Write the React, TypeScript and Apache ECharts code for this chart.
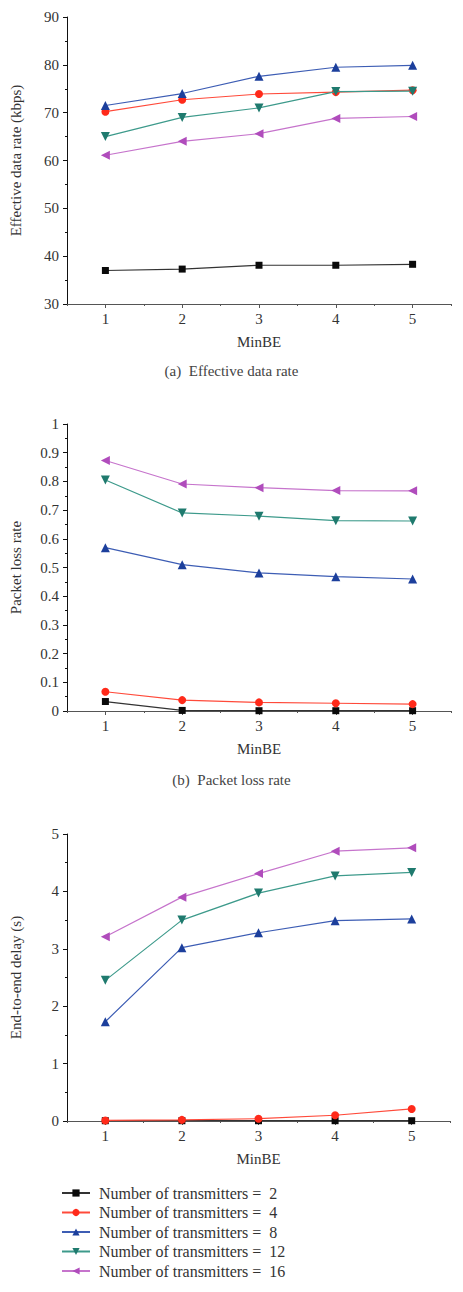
import React, { useEffect, useRef } from "react";
import * as echarts from "echarts";

// MinBE values on the horizontal axis of all three panels
const minBE = [1, 2, 3, 4, 5];

const seriesNames = [
  "Number of transmitters =  2",
  "Number of transmitters =  4",
  "Number of transmitters =  8",
  "Number of transmitters =  12",
  "Number of transmitters =  16",
];

// (a) Effective data rate (kbps)
const rate2 = [37.0, 37.3, 38.1, 38.1, 38.3];
const rate4 = [70.2, 72.7, 73.9, 74.3, 74.7];
const rate8 = [71.5, 74.0, 77.6, 79.5, 79.9];
const rate12 = [65.0, 69.0, 71.0, 74.4, 74.5];
const rate16 = [61.1, 64.0, 65.6, 68.8, 69.2];

// (b) Packet loss rate
const loss2 = [0.033, 0.002, 0.001, 0.001, 0.001];
const loss4 = [0.067, 0.038, 0.03, 0.027, 0.024];
const loss8 = [0.569, 0.51, 0.481, 0.468, 0.46];
const loss12 = [0.805, 0.69, 0.679, 0.663, 0.662];
const loss16 = [0.873, 0.791, 0.778, 0.768, 0.767];

// (c) End-to-end delay (s)
const delay2 = [0.005, 0.005, 0.005, 0.005, 0.005];
const delay4 = [0.01, 0.02, 0.04, 0.1, 0.21];
const delay8 = [1.73, 3.02, 3.28, 3.49, 3.52];
const delay12 = [2.45, 3.5, 3.97, 4.27, 4.33];
const delay16 = [3.21, 3.9, 4.31, 4.7, 4.76];

const yTicksRate = [30, 40, 50, 60, 70, 80, 90];
const yTicksLoss = [0, 0.1, 0.2, 0.3, 0.4, 0.5, 0.6, 0.7, 0.8, 0.9, 1];
const yTicksDelay = [0, 1, 2, 3, 4, 5];

const panelData = [
  [rate2, rate4, rate8, rate12, rate16],
  [loss2, loss4, loss8, loss12, loss16],
  [delay2, delay4, delay8, delay12, delay16],
];

const FONT = "Liberation Serif, Times New Roman, serif";
const TEXT = "#333";

const styles = [
  { symbol: "rect", rotate: 0, size: 7, marker: "#0a0a0a", line: "#333333" },
  { symbol: "circle", rotate: 0, size: 8, marker: "#ff2a1a", line: "#ff4a3a" },
  { symbol: "triangle", rotate: 0, size: 9, marker: "#1c3f9c", line: "#3d5db4" },
  { symbol: "triangle", rotate: 180, size: 9, marker: "#1f7a6e", line: "#3d9a8b" },
  { symbol: "triangle", rotate: 90, size: 9, marker: "#b04cbc", line: "#c674cc" },
];

const grids = [
  { left: 61, top: 17, width: 390, height: 287 },
  { left: 61, top: 424, width: 390, height: 287 },
  { left: 59, top: 834, width: 391, height: 287 },
];

const yAxisDefs = [
  { name: "Effective data rate (kbps)", ticks: yTicksRate, fmt: (v: number) => String(v) },
  { name: "Packet loss rate", ticks: yTicksLoss, fmt: (v: number) => String(Math.round(v * 10) / 10) },
  { name: "End-to-end delay (s)", ticks: yTicksDelay, fmt: (v: number) => String(v) },
];

export default function App() {
  const ref = useRef<HTMLDivElement>(null);

  useEffect(() => {
    if (!ref.current) return;
    const chart = echarts.init(ref.current, undefined, { renderer: "svg" });

    const labelStyle = { color: TEXT, fontFamily: FONT, fontSize: 15 };

    const xAxes: any[] = [];
    const yAxes: any[] = [];
    grids.forEach((_, i) => {
      // ticks counted from 0.5 fall between MinBE values (short);
      // minor ticks split them in half and land on the integers (long)
      xAxes.push({
        type: "value",
        gridIndex: i,
        min: 0.5,
        max: 5.5,
        interval: 1,
        name: "MinBE",
        nameLocation: "middle",
        nameGap: 30,
        nameTextStyle: { ...labelStyle },
        axisLine: { show: true, lineStyle: { color: "#555", width: 1.2 } },
        axisTick: { show: true, inside: false, length: 2, lineStyle: { color: "#555" } },
        minorTick: { show: true, splitNumber: 2, length: 4, lineStyle: { color: "#555" } },
        axisLabel: { ...labelStyle, margin: 7, customValues: minBE },
        splitLine: { show: false },
      });
      yAxes.push({
        type: "value",
        gridIndex: i,
        min: yAxisDefs[i].ticks[0],
        max: yAxisDefs[i].ticks[yAxisDefs[i].ticks.length - 1],
        interval: yAxisDefs[i].ticks[1] - yAxisDefs[i].ticks[0],
        name: yAxisDefs[i].name,
        nameLocation: "middle",
        nameGap: 44,
        nameTextStyle: { ...labelStyle },
        axisLine: { show: true, lineStyle: { color: "#111", width: 1 } },
        axisTick: { show: true, inside: false, length: 4, lineStyle: { color: "#111" } },
        minorTick: { show: true, splitNumber: 2, length: 2, lineStyle: { color: "#111" } },
        axisLabel: { ...labelStyle, margin: 8, formatter: yAxisDefs[i].fmt },
        splitLine: { show: false },
      });
    });

    const series: any[] = [];
    panelData.forEach((panel, p) => {
      panel.forEach((vals, s) => {
        const st = styles[s];
        series.push({
          type: "line",
          name: seriesNames[s],
          xAxisIndex: p,
          yAxisIndex: p,
          data: vals.map((v, k) => [minBE[k], v]),
          symbol: st.symbol,
          symbolRotate: st.rotate,
          symbolSize: st.size,
          showAllSymbol: true,
          lineStyle: { color: st.line, width: 1.2 },
          itemStyle: { color: st.marker },
          emphasis: { disabled: true },
          z: 2 + s,
        });
      });
    });

    chart.setOption({
      animation: false,
      backgroundColor: "#fff",
      grid: grids,
      xAxis: xAxes,
      yAxis: yAxes,
      series,
      legend: {
        data: seriesNames,
        orient: "vertical",
        left: 56,
        top: 1180,
        itemWidth: 28,
        itemHeight: 9,
        itemGap: 3.5,
        textStyle: { color: TEXT, fontFamily: FONT, fontSize: 16, lineHeight: 16, padding: [0, 0, 0, 4] },
        selectedMode: false,
      },
      graphic: [
        {
          type: "text",
          left: "center",
          top: 363,
          style: { text: "(a)  Effective data rate", fill: "#444", fontFamily: FONT, fontSize: 15 },
        },
        {
          type: "text",
          left: "center",
          top: 772,
          style: { text: "(b)  Packet loss rate", fill: "#444", fontFamily: FONT, fontSize: 15 },
        },
      ],
    });

    return () => chart.dispose();
  }, []);

  return (
    <div
      ref={ref}
      style={{ position: "absolute", left: 0, top: 0, width: 463, height: 1292 }}
    />
  );
}
